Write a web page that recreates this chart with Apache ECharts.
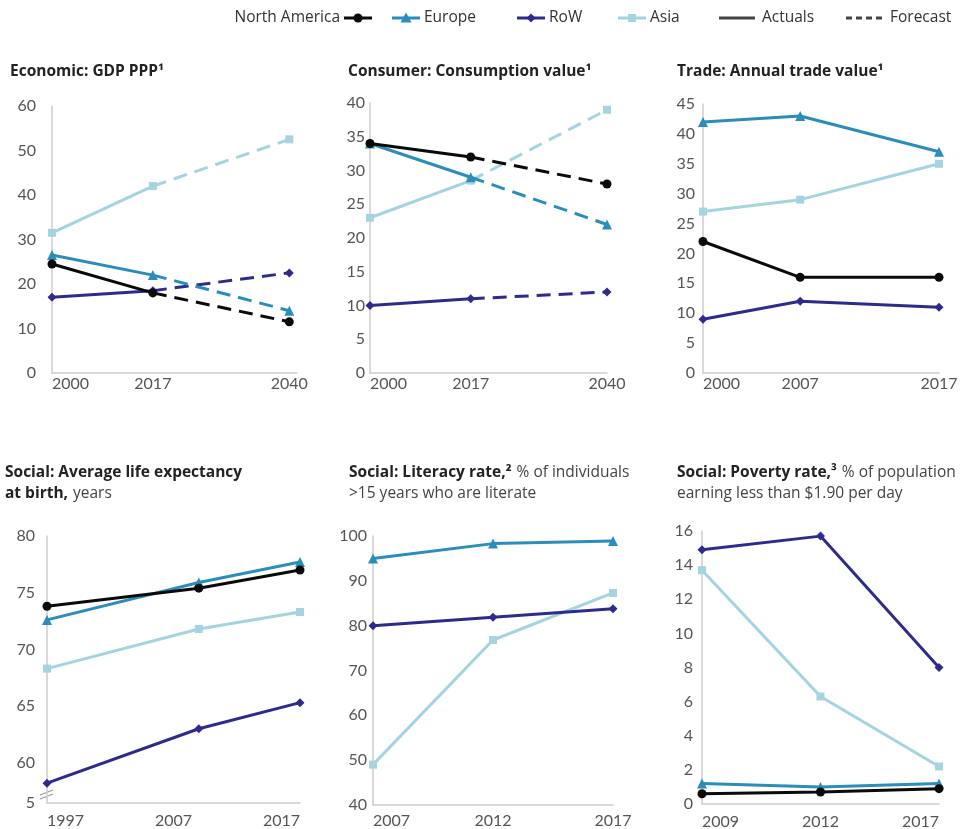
<!DOCTYPE html>
<html>
<head>
<meta charset="utf-8">
<script src="https://cdn.jsdelivr.net/npm/echarts@6/dist/echarts.min.js"></script>
<style>
  html, body { margin: 0; padding: 0; background: #fff; }
  #chart { width: 969px; height: 829px; }
</style>
</head>
<body>
<div id="chart"></div>
<script>
// ---- Data -------------------------------------------------------------
const regions = ['North America', 'Europe', 'RoW', 'Asia'];
const legendLabels = ['North America', 'Europe', 'RoW', 'Asia', 'Actuals', 'Forecast'];

// Economic: GDP PPP (2017 is the last actual year, 2040 is forecast)
const gdpYears = [2000, 2017, 2040];
const gdpTicks = [0, 10, 20, 30, 40, 50, 60];
const gdpNorthAmerica = [24.5, 18, 11.5];
const gdpEurope = [26.5, 22, 14];
const gdpRoW = [17, 18.5, 22.5];
const gdpAsia = [31.5, 42, 52.5];

// Consumer: Consumption value
const consYears = [2000, 2017, 2040];
const consTicks = [0, 5, 10, 15, 20, 25, 30, 35, 40];
const consNorthAmerica = [34, 32, 28];
const consEurope = [34, 29, 22];
const consRoW = [10, 11, 12];
const consAsia = [23, 28.5, 39];

// Trade: Annual trade value
const tradeYears = [2000, 2007, 2017];
const tradeTicks = [0, 5, 10, 15, 20, 25, 30, 35, 40, 45];
const tradeNorthAmerica = [22, 16, 16];
const tradeEurope = [42, 43, 37];
const tradeRoW = [9, 12, 11];
const tradeAsia = [27, 29, 35];

// Social: Average life expectancy at birth, years
const lifeYears = [1997, 2009, 2017];
const lifeYearLabels = [1997, 2007, 2017];
const lifeTicks = [56.45, 60, 65, 70, 75, 80];
const lifeNorthAmerica = [73.8, 75.4, 77.0];
const lifeEurope = [72.6, 75.9, 77.7];
const lifeRoW = [58.2, 63.0, 65.3];
const lifeAsia = [68.3, 71.8, 73.3];

// Social: Literacy rate
const litYears = [2007, 2012, 2017];
const litTicks = [40, 50, 60, 70, 80, 90, 100];
const litEurope = [95, 98.3, 98.9];
const litRoW = [80, 81.9, 83.8];
const litAsia = [49, 76.8, 87.3];

// Social: Poverty rate
const povYears = ['2009', '2012', '2017'];
const povTicks = [0, 2, 4, 6, 8, 10, 12, 14, 16];
const povNorthAmerica = [0.6, 0.7, 0.9];
const povEurope = [1.2, 1.0, 1.2];
const povRoW = [14.9, 15.7, 8.0];
const povAsia = [13.7, 6.3, 2.2];

// ---- Styling ------------------------------------------------------------
const FONT = 'Lato, "Open Sans", sans-serif';
const TITLE_FONT = '"Open Sans", Lato, sans-serif';
const AXIS_GRAY = '#cdcdcd';
const LABEL_COLOR = '#555';
const TEXT_DARK = '#222';
const regionStyle = {
  'North America': { color: '#0a0a0a', symbol: 'circle', size: 9 },
  'Europe':        { color: '#2a8dbb', symbol: 'triangle', size: 10 },
  'RoW':           { color: '#2e2b8c', symbol: 'diamond', size: 9 },
  'Asia':          { color: '#a3d4df', symbol: 'rect', size: 8 }
};
// drawing order: light lines first
const drawOrder = ['Asia', 'RoW', 'Europe', 'North America'];

const panels = [
  {
    title: '{b|Economic: GDP PPP¹}',
    titlePos: { left: 10, top: 61 },
    grid: { left: 52, top: 106, width: 245, height: 267 },
    xType: 'value', xMin: 2000, xMax: 2041.3, xTicks: gdpYears, years: gdpYears,
    maxAlign: 'center', xMargin: 3,
    yMin: 0, yMax: 60, yTicks: gdpTicks, yMargin: 16,
    forecastFrom: 1,
    values: { 'North America': gdpNorthAmerica, 'Europe': gdpEurope, 'RoW': gdpRoW, 'Asia': gdpAsia }
  },
  {
    title: '{b|Consumer: Consumption value¹}',
    titlePos: { left: 348, top: 61 },
    grid: { left: 370, top: 103, width: 237, height: 270 },
    xType: 'value', xMin: 2000, xMax: 2040, xTicks: consYears, years: consYears,
    maxAlign: 'center', xMargin: 3,
    yMin: 0, yMax: 40, yTicks: consTicks, yMargin: 5,
    forecastFrom: 1,
    values: { 'North America': consNorthAmerica, 'Europe': consEurope, 'RoW': consRoW, 'Asia': consAsia }
  },
  {
    title: '{b|Trade: Annual trade value¹}',
    titlePos: { left: 677, top: 61 },
    grid: { left: 703, top: 104, width: 236, height: 269 },
    xType: 'value', xMin: 2000, xMax: 2017, xTicks: tradeYears, years: tradeYears,
    maxAlign: 'center', xMargin: 3,
    yMin: 0, yMax: 45, yTicks: tradeTicks, yMargin: 8,
    forecastFrom: null,
    values: { 'North America': tradeNorthAmerica, 'Europe': tradeEurope, 'RoW': tradeRoW, 'Asia': tradeAsia }
  },
  {
    title: '{b|Social: Average life expectancy}\n{b|at birth,} {r|years}',
    titlePos: { left: 5, top: 462 },
    grid: { left: 47, top: 536, width: 253, height: 267 },
    xType: 'value', xMin: 1997, xMax: 2017, xTicks: lifeYearLabels, years: lifeYears,
    maxAlign: 'right', xMargin: 10,
    yMin: 56.45, yMax: 80, yTicks: lifeTicks, yMargin: 12,
    yFormatter: v => (v < 60 ? '5' : String(v)),
    forecastFrom: null,
    values: { 'North America': lifeNorthAmerica, 'Europe': lifeEurope, 'RoW': lifeRoW, 'Asia': lifeAsia }
  },
  {
    title: '{b|Social: Literacy rate,²} {r|% of individuals}\n{r|>15 years who are literate}',
    titlePos: { left: 349, top: 462 },
    grid: { left: 373, top: 536, width: 240, height: 269 },
    xType: 'value', xMin: 2007, xMax: 2017, xTicks: litYears, years: litYears,
    maxAlign: 'center', xMargin: 8,
    yMin: 40, yMax: 100, yTicks: litTicks, yMargin: 6,
    forecastFrom: null,
    values: { 'Europe': litEurope, 'RoW': litRoW, 'Asia': litAsia }
  },
  {
    title: '{b|Social: Poverty rate,³} {r|% of population}\n{r|earning less than $1.90 per day}',
    titlePos: { left: 677, top: 462 },
    grid: { left: 702, top: 531, width: 237, height: 273 },
    xType: 'category', years: povYears,
    xMargin: 10,
    yMin: 0, yMax: 16, yTicks: povTicks, yMargin: 9,
    forecastFrom: null,
    values: { 'North America': povNorthAmerica, 'Europe': povEurope, 'RoW': povRoW, 'Asia': povAsia }
  }
];

// ---- Build option --------------------------------------------------------
const grids = [], xAxes = [], yAxes = [], series = [], titles = [];
const titleRich = {
  b: { fontFamily: TITLE_FONT, fontSize: 15.5, fontWeight: 'bold', color: TEXT_DARK, lineHeight: 21 },
  r: { fontFamily: TITLE_FONT, fontSize: 15.5, fontWeight: 'normal', color: '#444', lineHeight: 21 }
};

panels.forEach((p, i) => {
  grids.push(Object.assign({ outerBoundsMode: 'none', containLabel: false }, p.grid));
  titles.push({
    text: p.title, left: p.titlePos.left, top: p.titlePos.top, padding: 0,
    textStyle: { rich: titleRich }
  });

  const labelBase = { color: LABEL_COLOR, fontSize: 16, fontFamily: FONT };
  if (p.xType === 'category') {
    xAxes.push({
      type: 'category', gridIndex: i, data: p.years, boundaryGap: false,
      axisLine: { show: true, lineStyle: { color: AXIS_GRAY, width: 1.5 } },
      axisTick: { show: false }, splitLine: { show: false },
      axisLabel: Object.assign({ margin: p.xMargin, alignMinLabel: 'left', alignMaxLabel: 'right' }, labelBase)
    });
  } else {
    xAxes.push({
      type: 'value', gridIndex: i, min: p.xMin, max: p.xMax,
      axisLine: { show: true, onZero: false, lineStyle: { color: AXIS_GRAY, width: 1.5 } },
      axisTick: { show: false }, splitLine: { show: false },
      axisLabel: Object.assign({
        customValues: p.xTicks, margin: p.xMargin,
        alignMinLabel: 'left', alignMaxLabel: p.maxAlign,
        formatter: v => String(v)
      }, labelBase)
    });
  }
  yAxes.push({
    type: 'value', gridIndex: i, min: p.yMin, max: p.yMax,
    axisLine: { show: true, onZero: false, lineStyle: { color: AXIS_GRAY, width: 1.5 } },
    axisTick: { show: false }, splitLine: { show: false },
    axisLabel: Object.assign({
      customValues: p.yTicks, margin: p.yMargin,
      formatter: p.yFormatter || (v => String(v))
    }, labelBase)
  });

  drawOrder.forEach((region, k) => {
    const vals = p.values[region];
    if (!vals) return;
    const st = regionStyle[region];
    const pts = vals.map((v, j) => (p.xType === 'category' ? v : [p.years[j], v]));
    const base = {
      type: 'line', xAxisIndex: i, yAxisIndex: i, name: region,
      symbol: st.symbol, symbolSize: st.size, showSymbol: true,
      itemStyle: { color: st.color }, silent: true, animation: false, z: 2 + k
    };
    if (p.forecastFrom == null) {
      series.push(Object.assign({}, base, {
        data: pts, lineStyle: { color: st.color, width: 3 }
      }));
    } else {
      const f = p.forecastFrom;
      series.push(Object.assign({}, base, {
        data: pts.slice(0, f + 1), lineStyle: { color: st.color, width: 3 }
      }));
      const fc = pts.slice(f).map((pt, j) => (j === 0 ? { value: pt, symbol: 'none' } : pt));
      series.push(Object.assign({}, base, {
        data: fc, lineStyle: { color: st.color, width: 3, type: [14, 8] }
      }));
    }
  });
});

// ---- Legend (drawn as graphic items) ---------------------------------
const LEG_Y = 18;
const legText = (x, txt, align) => ({
  type: 'text', x, y: LEG_Y,
  style: { text: txt, fontFamily: TITLE_FONT, fontSize: 15.5, fill: '#333', align: align || 'left', verticalAlign: 'middle' }
});
const legLine = (x1, x2, color, dashed) => ({
  type: 'line', shape: { x1, y1: LEG_Y, x2, y2: LEG_Y },
  style: { stroke: color, lineWidth: 3, lineDash: dashed ? [6, 4] : null }
});
const legMarker = (cx, region) => {
  const st = regionStyle[region];
  const s = 4.5;
  if (st.symbol === 'circle') return { type: 'circle', shape: { cx, cy: LEG_Y, r: s }, style: { fill: st.color } };
  if (st.symbol === 'triangle') return { type: 'polygon', shape: { points: [[cx, LEG_Y - s - 1], [cx + s + 1, LEG_Y + s], [cx - s - 1, LEG_Y + s]] }, style: { fill: st.color } };
  if (st.symbol === 'diamond') return { type: 'polygon', shape: { points: [[cx, LEG_Y - s], [cx + s, LEG_Y], [cx, LEG_Y + s], [cx - s, LEG_Y]] }, style: { fill: st.color } };
  return { type: 'rect', shape: { x: cx - s + 0.5, y: LEG_Y - s + 0.5, width: 2 * s - 1, height: 2 * s - 1 }, style: { fill: st.color } };
};
const legendGraphics = [
  legText(340, legendLabels[0], 'right'),
  legLine(344, 372, regionStyle['North America'].color), legMarker(358, 'North America'),
  legLine(392, 420, regionStyle['Europe'].color), legMarker(406, 'Europe'), legText(424, legendLabels[1]),
  legLine(517, 545, regionStyle['RoW'].color), legMarker(531, 'RoW'), legText(549, legendLabels[2]),
  legLine(618, 646, regionStyle['Asia'].color), legMarker(632, 'Asia'), legText(650, legendLabels[3]),
  legLine(719, 755, '#444'), legText(762, legendLabels[4]),
  legLine(846, 882, '#444', true), legText(890, legendLabels[5])
];

// axis break mark at the foot of the life expectancy axis
const breakMark = [
  { type: 'line', shape: { x1: 40, y1: 795, x2: 53, y2: 790 }, style: { stroke: '#999', lineWidth: 1.2 } },
  { type: 'line', shape: { x1: 40, y1: 799, x2: 53, y2: 794 }, style: { stroke: '#999', lineWidth: 1.2 } }
];

const option = {
  backgroundColor: '#fff',
  animation: false,
  title: titles,
  grid: grids,
  xAxis: xAxes,
  yAxis: yAxes,
  series: series,
  graphic: legendGraphics.concat(breakMark)
};

const chart = echarts.init(document.getElementById('chart'), null, { renderer: 'canvas' });
chart.setOption(option);
</script>
</body>
</html>
